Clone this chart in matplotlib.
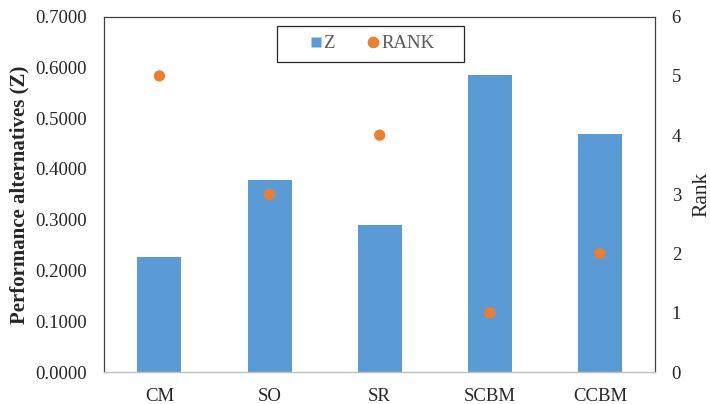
import matplotlib
matplotlib.use("Agg")
import matplotlib.pyplot as plt
from matplotlib.lines import Line2D
from matplotlib.patches import Rectangle
import numpy as np

categories = ["CM", "SO", "SR", "SCBM", "CCBM"]
z_values = [0.2275, 0.378, 0.289, 0.585, 0.469]
rank_values = [5, 3, 4, 1, 2]

plt.rcParams['font.family'] = ['Liberation Serif', 'DejaVu Serif']

bar_color = '#5B9BD5'
dot_color = '#ED7D31'
text_color = '#262626'

fig = plt.figure(figsize=(7.10, 4.04), dpi=100)
ax = fig.add_axes([0.147, 0.0792, 0.7755, 0.8795])
x = np.arange(len(categories))
ax.bar(x, z_values, width=0.4, color=bar_color, zorder=2)
ax.set_xlim(-0.5, len(categories) - 0.5)
ax.set_ylim(0, 0.7)
yt = np.arange(0, 0.7001, 0.1)
ax.set_yticks(yt)
ax.set_yticklabels([f"{v:.4f}" for v in yt])
ax.set_xticks(x)
ax.set_xticklabels(categories)
ax.tick_params(axis='x', length=0, labelsize=13.5, colors=text_color, pad=11.5)
ax.tick_params(axis='y', length=0, labelsize=13.5, colors=text_color, pad=12.5)
ax.set_ylabel("Performance alternatives (Z)", fontsize=15, fontweight='bold',
              color=text_color, labelpad=4.5)
for s in ['left', 'top', 'right']:
    ax.spines[s].set_color('#404040')
    ax.spines[s].set_linewidth(0.9)
ax.spines['bottom'].set_color('#BFBFBF')
ax.spines['bottom'].set_linewidth(1.0)

ax2 = ax.twinx()
ax2.scatter(x, rank_values, s=66, color=dot_color, zorder=3, edgecolors='none')
ax2.set_ylim(0, 6)
ax2.set_yticks(range(0, 7))
ax2.tick_params(axis='y', length=0, labelsize=13.5, colors=text_color, pad=12)
ax2.set_ylabel("Rank", fontsize=15.5, color=text_color, labelpad=8)
for s in ['left', 'top', 'right', 'bottom']:
    ax2.spines[s].set_visible(False)

# legend frame
ax2.add_patch(Rectangle((0.3134, 0.8733), 0.3392, 0.1013, transform=ax2.transAxes,
                        facecolor='white', edgecolor='#262626', linewidth=0.9,
                        zorder=5, clip_on=False))
h1 = Line2D([], [], linestyle='none', marker='s', markersize=7.2,
            markerfacecolor=bar_color, markeredgecolor='none')
h2 = Line2D([], [], linestyle='none', marker='o', markersize=8.4,
            markerfacecolor=dot_color, markeredgecolor='none')
leg = ax2.legend([h1, h2], ['Z', 'RANK'], loc='center left',
                 bbox_to_anchor=(0.3735, 0.924), ncol=2, frameon=False,
                 fontsize=13.5, handlelength=0.6, handletextpad=0.12,
                 columnspacing=1.75, borderpad=0, borderaxespad=0)
leg.set_zorder(6)
for t in leg.get_texts():
    t.set_color('#595959')

fig.savefig("out.png", dpi=100)
